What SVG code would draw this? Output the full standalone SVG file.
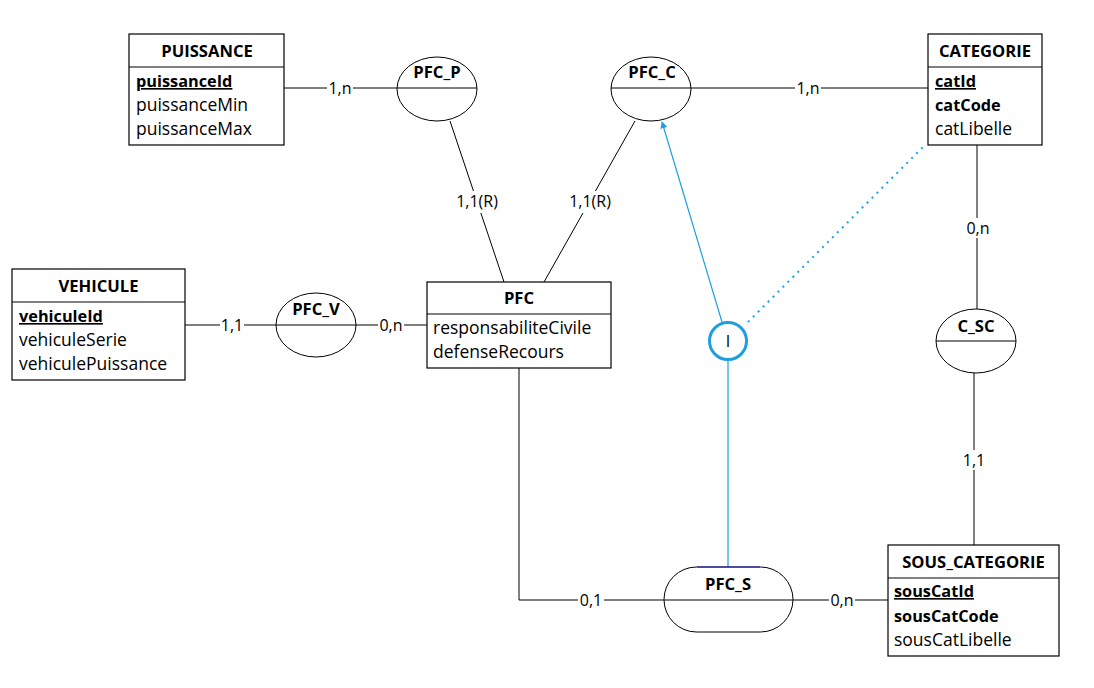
<svg xmlns="http://www.w3.org/2000/svg" width="1094" height="688" viewBox="0 0 1094 688">
<style>
text{font-family:"Open Sans","Liberation Sans",sans-serif;font-size:16px;fill:#000}
.t{font-weight:bold;text-anchor:middle;font-size:16.6px}
.a{font-size:17.5px}
.b{font-weight:bold;font-size:16.3px}
.u{text-decoration:underline}
.box{fill:#fff;stroke:#000;stroke-width:1.2}
.div{stroke:#000;stroke-width:1}
.rel{fill:#fff;stroke:#000;stroke-width:1}
.ln{fill:none;stroke:#000;stroke-width:1}
.bl{fill:none;stroke:#1e9fe0;stroke-width:1.2}
.lab{text-anchor:middle}
.bg{fill:#fff}
</style>
<defs>
<marker id="arr" viewBox="0 0 10 10" refX="9" refY="5" markerWidth="7" markerHeight="7" orient="auto-start-reverse" markerUnits="userSpaceOnUse">
<path d="M0,0 L10,5 L0,10 z" fill="#1e9fe0"/>
</marker>
</defs>
<rect width="1094" height="688" fill="#fff"/>
<g id="connectors">
<line class="ln" x1="284" y1="88" x2="397" y2="88"/>
<line class="ln" x1="691" y1="88" x2="928" y2="88"/>
<line class="ln" x1="450" y1="121" x2="504" y2="282"/>
<line class="ln" x1="635" y1="121" x2="544" y2="282"/>
<line class="ln" x1="185" y1="325" x2="276" y2="325"/>
<line class="ln" x1="356" y1="325" x2="427" y2="325"/>
<line class="ln" x1="977" y1="145" x2="977" y2="309"/>
<line class="ln" x1="974" y1="373" x2="974" y2="545"/>
<polyline class="ln" points="519,368 519,600 664,600"/>
<line class="ln" x1="793" y1="600" x2="888" y2="600"/>
<line class="bl" x1="722" y1="322" x2="662" y2="122" marker-end="url(#arr)"/>
<line x1="748" y1="322" x2="925" y2="145" stroke="#1e9fe0" stroke-width="2" stroke-dasharray="2,5"/>
<line class="bl" x1="728" y1="360" x2="728" y2="567"/>
<rect class="bg" x="327" y="78" width="26" height="20"/>
<text class="lab" x="340" y="94">1,n</text>
<rect class="bg" x="795" y="78" width="26" height="20"/>
<text class="lab" x="808" y="94">1,n</text>
<rect class="bg" x="452" y="191" width="50" height="22"/>
<text class="lab" x="477" y="207">1,1(R)</text>
<rect class="bg" x="565" y="191" width="50" height="22"/>
<text class="lab" x="590" y="207">1,1(R)</text>
<rect class="bg" x="220" y="315" width="24" height="20"/>
<text class="lab" x="232" y="331">1,1</text>
<rect class="bg" x="378" y="315" width="26" height="20"/>
<text class="lab" x="391" y="331">0,n</text>
<rect class="bg" x="965" y="218" width="26" height="20"/>
<text class="lab" x="978" y="234">0,n</text>
<rect class="bg" x="962" y="450" width="24" height="20"/>
<text class="lab" x="974" y="466">1,1</text>
<rect class="bg" x="578" y="590" width="26" height="20"/>
<text class="lab" x="591" y="606">0,1</text>
<rect class="bg" x="829" y="590" width="26" height="20"/>
<text class="lab" x="842" y="606">0,n</text>
</g>
<g id="PUISSANCE">
<rect class="box" x="129" y="34" width="155" height="111"/>
<line class="div" x1="129" y1="67" x2="284" y2="67"/>
<text class="t" x="207" y="57">PUISSANCE</text>
<text class="b u" x="136" y="87">puissanceId</text>
<text class="a" x="136" y="111">puissanceMin</text>
<text class="a" x="136" y="135">puissanceMax</text>
</g>
<g id="CATEGORIE">
<rect class="box" x="928" y="34" width="114" height="111"/>
<line class="div" x1="928" y1="67" x2="1042" y2="67"/>
<text class="t" x="985" y="57">CATEGORIE</text>
<text class="b u" x="935" y="87">catId</text>
<text class="b" x="935" y="111">catCode</text>
<text class="a" x="935" y="135">catLibelle</text>
</g>
<g id="VEHICULE">
<rect class="box" x="12" y="269" width="173" height="111"/>
<line class="div" x1="12" y1="302" x2="185" y2="302"/>
<text class="t" x="98.5" y="292">VEHICULE</text>
<text class="b u" x="19" y="322">vehiculeId</text>
<text class="a" x="19" y="346">vehiculeSerie</text>
<text class="a" x="19" y="370">vehiculePuissance</text>
</g>
<g id="PFC">
<rect class="box" x="427" y="282" width="184" height="86"/>
<line class="div" x1="427" y1="314" x2="611" y2="314"/>
<text class="t" x="519" y="304">PFC</text>
<text class="a" x="433" y="334">responsabiliteCivile</text>
<text class="a" x="433" y="358">defenseRecours</text>
</g>
<g id="SOUS_CATEGORIE">
<rect class="box" x="888" y="545" width="171" height="111"/>
<line class="div" x1="888" y1="578" x2="1059" y2="578"/>
<text class="t" x="973.5" y="568">SOUS_CATEGORIE</text>
<text class="b u" x="894" y="597">sousCatId</text>
<text class="b" x="894" y="622">sousCatCode</text>
<text class="a" x="894" y="646">sousCatLibelle</text>
</g>
<g id="PFC_P">
<ellipse class="rel" cx="437" cy="89" rx="40" ry="32"/>
<line class="div" x1="397" y1="88" x2="477" y2="88"/>
<text class="t" x="437" y="78">PFC_P</text>
</g>
<g id="PFC_C">
<ellipse class="rel" cx="651" cy="89" rx="40" ry="32"/>
<line class="div" x1="611" y1="88" x2="691" y2="88"/>
<text class="t" x="652" y="78">PFC_C</text>
</g>
<g id="PFC_V">
<ellipse class="rel" cx="316" cy="325" rx="40" ry="32"/>
<line class="div" x1="276" y1="325" x2="356" y2="325"/>
<text class="t" x="316" y="315">PFC_V</text>
</g>
<g id="C_SC">
<ellipse class="rel" cx="976" cy="341" rx="40" ry="32"/>
<line class="div" x1="936" y1="341" x2="1016" y2="341"/>
<text class="t" x="976" y="332">C_SC</text>
</g>
<g id="PFC_S">
<rect class="rel" x="664" y="567" width="129" height="65" rx="32.5" ry="32.5"/>
<line x1="697" y1="567" x2="760" y2="567" stroke="#1a1ac8" stroke-width="1"/>
<line class="div" x1="664" y1="600" x2="793" y2="600"/>
<text class="t" x="728" y="590">PFC_S</text>
</g>
<g id="I">
<circle cx="728" cy="341" r="18.5" fill="#fff" stroke="#1e9fe0" stroke-width="3"/>
<text x="728" y="347" text-anchor="middle">I</text>
</g>
</svg>
